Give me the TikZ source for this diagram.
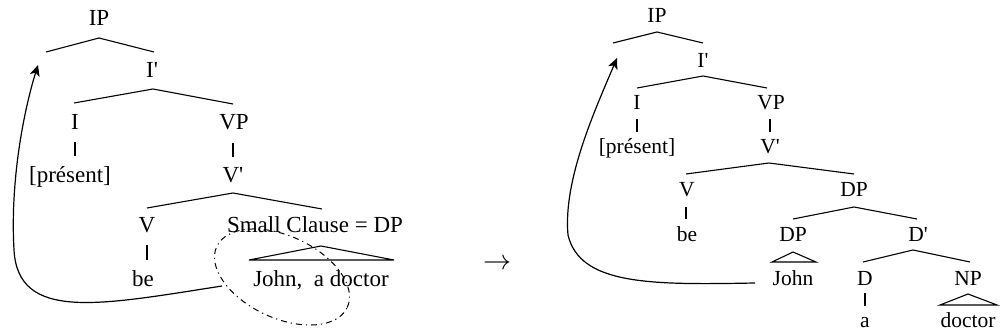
\documentclass[tikz,border=0pt]{standalone}
\usepackage{fontspec}
\setmainfont{Liberation Serif}
\usetikzlibrary{shapes.geometric,arrows.meta}
\begin{document}
\begin{tikzpicture}[x=1pt,y=-1pt,
  lt/.style={anchor=base, inner sep=0pt, font=\fontsize{23}{26}\selectfont},
  rt/.style={anchor=base, inner sep=0pt, font=\fontsize{21.5}{24}\selectfont},
  br/.style={line width=1.1pt},
  mv/.style={line width=1.2pt, -{Stealth[length=11pt,width=10pt,inset=3pt]}},
  scell/.style={draw, ellipse, line width=1pt, dash pattern=on 6pt off 4pt on 1.2pt off 4pt,
    minimum width=144pt, minimum height=82pt, inner sep=0pt, rotate=-25}]
\useasboundingbox (0,0) rectangle (1004,336);

% ---------------- left tree ----------------
\node[lt] (lIP)   at (99,26)  {IP};
\node[lt] (lIb)   at (152,78) {I\textquotesingle};
\node[lt] (lI)    at (75,130) {I};
\node[lt] (lVP)   at (234,130) {VP};
\node[lt] (lpres) at (70,183) {[présent]};
\node[lt] (lVb)   at (233,183) {V\textquotesingle};
\node[lt] (lV)    at (147,233) {V};
\node[lt] (lSC)   at (315,233) {Small Clause = DP};
\node[lt] (lbe)   at (143,287) {be};
\node[lt] (lJohn) at (321,287) {John,~ a doctor};

\coordinate (lIPa) at (99,38);  \coordinate (lIPl) at (46,52);  \coordinate (lIPr) at (154,52);
\coordinate (lIba) at (153,89); \coordinate (lIbl) at (74,103); \coordinate (lIbr) at (233,104);
\coordinate (lIt) at (75,142);  \coordinate (lIu) at (75,156);
\coordinate (lVPt) at (233,143); \coordinate (lVPu) at (233,157);
\coordinate (lVba) at (233,193); \coordinate (lVbl) at (147,208); \coordinate (lVbr) at (322,209);
\coordinate (lVt) at (147,245); \coordinate (lVu) at (147,260);
\coordinate (lTa) at (321,246); \coordinate (lTl) at (249,260); \coordinate (lTr) at (394,260);

\draw[br] (lIPl) -- (lIPa) -- (lIPr);
\draw[br] (lIbl) -- (lIba) -- (lIbr);
\draw[br] (lIt) -- (lIu);
\draw[br] (lVPt) -- (lVPu);
\draw[br] (lVbl) -- (lVba) -- (lVbr);
\draw[br] (lVt) -- (lVu);
\draw[br] (lTl) -- (lTa) -- (lTr) -- cycle;

\node[scell] (lell) at (282,277) {};

\coordinate (lmvS) at (222,286);
\coordinate (lmvE) at (38,65);
\draw[mv] (lmvS) .. controls (100,305) and (18,322) .. (14,250)
                 .. controls (10,180) and (24,110) .. (lmvE);

% ---------------- arrow between ----------------
\node[anchor=center, inner sep=0pt, font=\fontsize{10}{12}\selectfont] (arr) at (497,264) {\scalebox{2.8}{$\rightarrow$}};

% ---------------- right tree ----------------
\node[rt] (rIP)   at (657,22.7) {IP};
\node[rt] (rIb)   at (703,68)  {I\textquotesingle};
\node[rt] (rI)    at (637,110) {I};
\node[rt] (rVP)   at (771,110) {VP};
\node[rt] (rpres) at (637,154) {[présent]};
\node[rt] (rVb)   at (770,154) {V\textquotesingle};
\node[rt] (rV)    at (687,197) {V};
\node[rt] (rDP)   at (854,197) {DP};
\node[rt] (rbe)   at (687,242) {be};
\node[rt] (rDPs)  at (793,242) {DP};
\node[rt] (rDb)   at (918,242) {D\textquotesingle};
\node[rt] (rJohn) at (793,286) {John};
\node[rt] (rD)    at (865,286) {D};
\node[rt] (rNP)   at (968,286) {NP};
\node[rt] (ra)    at (865,328) {a};
\node[rt] (rdoc)  at (968,328) {doctor};

\coordinate (rIPa) at (657,32);  \coordinate (rIPl) at (613,43);  \coordinate (rIPr) at (703,43);
\coordinate (rIba) at (703,76);  \coordinate (rIbl) at (637,88);  \coordinate (rIbr) at (767,88);
\coordinate (rIt) at (637,119);  \coordinate (rIu) at (637,132);
\coordinate (rVPt) at (770,119); \coordinate (rVPu) at (770,132);
\coordinate (rVba) at (769,163); \coordinate (rVbl) at (686,174); \coordinate (rVbr) at (854,174);
\coordinate (rVt) at (686,207);  \coordinate (rVu) at (686,219);
\coordinate (rDPa) at (854,207); \coordinate (rDPl) at (793,219); \coordinate (rDPr) at (917,219);
\coordinate (rT1a) at (793,252); \coordinate (rT1l) at (772,262); \coordinate (rT1r) at (816,262);
\coordinate (rDba) at (913,250); \coordinate (rDbl) at (863,262); \coordinate (rDbr) at (970,262);
\coordinate (rDt) at (865,293);  \coordinate (rDu) at (865,306);
\coordinate (rT2a) at (968,294); \coordinate (rT2l) at (940,305); \coordinate (rT2r) at (997,305);

\draw[br] (rIPl) -- (rIPa) -- (rIPr);
\draw[br] (rIbl) -- (rIba) -- (rIbr);
\draw[br] (rIt) -- (rIu);
\draw[br] (rVPt) -- (rVPu);
\draw[br] (rVbl) -- (rVba) -- (rVbr);
\draw[br] (rVt) -- (rVu);
\draw[br] (rDPl) -- (rDPa) -- (rDPr);
\draw[br] (rT1l) -- (rT1a) -- (rT1r) -- cycle;
\draw[br] (rDbl) -- (rDba) -- (rDbr);
\draw[br] (rDt) -- (rDu);
\draw[br] (rT2l) -- (rT2a) -- (rT2r) -- cycle;

\coordinate (rmvS) at (755,283);
\coordinate (rmvE) at (617,58);
\draw[mv] (rmvS) .. controls (650,285) and (580,285) .. (568,235)
                 .. controls (563,180) and (595,110) .. (rmvE);
\end{tikzpicture}
\end{document}
